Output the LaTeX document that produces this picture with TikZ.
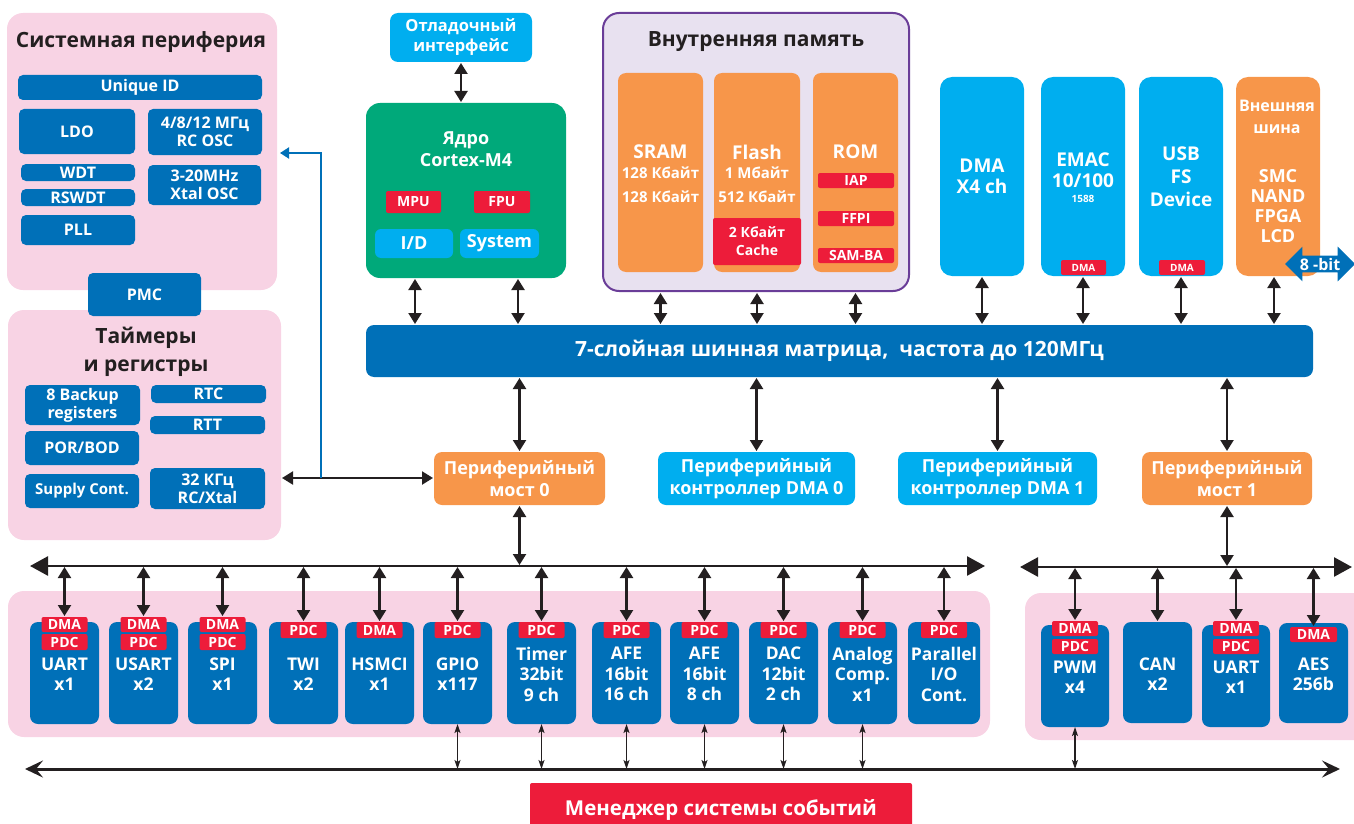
\documentclass[tikz,border=0pt]{standalone}
\usepackage{fontspec}
\setmainfont{Open Sans}
\usetikzlibrary{arrows.meta,shapes.arrows}
\definecolor{pinkbg}{HTML}{F8D3E4}
\definecolor{dblue}{HTML}{0070B8}
\definecolor{cyanb}{HTML}{00AEEF}
\definecolor{orangeb}{HTML}{F7964A}
\definecolor{redb}{HTML}{ED1C3A}
\definecolor{greenb}{HTML}{00A97A}
\definecolor{lav}{HTML}{E8E1F0}
\definecolor{purp}{HTML}{6A3D98}
\definecolor{ink}{HTML}{231F20}
\newcommand{\mkbox}[7]{\node[#2, minimum width={(#5)-(#3)}, minimum height={(#6)-(#4)}] (#1) at ({((#3)+(#5))/2},{((#4)+(#6))/2}) {#7};}
\newcommand{\fs}[2]{\fontsize{#1}{#2}\selectfont\bfseries}
\begin{document}
\begin{tikzpicture}[x=1pt,y=-1pt,
  blk/.style={inner sep=0pt, outer sep=0pt, rounded corners=8pt, align=center, text=white},
  pinkarea/.style={blk, fill=pinkbg, rounded corners=16pt},
  dbox/.style={blk, fill=dblue},
  sbox/.style={blk, fill=dblue, rounded corners=5pt, font=\fs{16}{18}},
  cbox/.style={blk, fill=cyanb},
  obox/.style={blk, fill=orangeb},
  gbox/.style={blk, fill=greenb, rounded corners=14pt},
  rtag/.style={blk, fill=redb, rounded corners=2pt, font=\fs{14}{15}},
  mtag/.style={blk, fill=redb, rounded corners=2pt, font=\fs{14}{15}},
  lbl/.style={inner sep=0pt, align=center, text=white},
  ttl/.style={inner sep=0pt, align=center, text=ink, font=\fs{21}{28}},
  dbl/.style={{Triangle[length=11pt,width=13pt]}-{Triangle[length=11pt,width=13pt]}, line width=2.2pt, draw=ink, shorten <=1pt, shorten >=1pt},
  busl/.style={{Triangle[length=18pt,width=19pt]}-{Triangle[length=18pt,width=19pt]}, line width=2.6pt, draw=ink},
  evl/.style={{Stealth[length=9pt,width=6pt,inset=2pt]}-{Stealth[length=9pt,width=6pt,inset=2pt]}, line width=1.5pt, draw=ink},
  evbus/.style={{Stealth[length=18pt,width=17pt,inset=7pt]}-{Stealth[length=18pt,width=17pt,inset=7pt]}, line width=3pt, draw=ink}
]
\useasboundingbox (0,0) rectangle (1354,824);
\clip (0,0) rectangle (1354,824);

% ---------- System peripherals ----------
\mkbox{sysp}{pinkarea}{7}{13}{277}{290}{}
\node[ttl] (syspT) at (141,42) {Системная периферия};
\mkbox{uid}{sbox}{18}{75}{262}{100}{Unique ID}
\mkbox{ldo}{sbox}{19}{109}{135}{154}{LDO}
\mkbox{rcosc}{sbox}{148}{109}{262}{155}{4/8/12 МГц\\RC OSC}
\mkbox{wdt}{sbox}{21}{164}{135}{181}{WDT}
\mkbox{rswdt}{sbox}{21}{189}{135}{206}{RSWDT}
\mkbox{xosc}{sbox}{148}{165}{261}{205}{3-20MHz\\Xtal OSC}
\mkbox{pll}{sbox}{21}{215}{135}{245}{PLL}

% ---------- Timers ----------
\mkbox{tmr}{pinkarea}{8}{310}{281}{540}{}
\node[ttl] (tmrT) at (146,352) {Таймеры\\и регистры};
\mkbox{bkp}{sbox}{25}{385}{140}{425}{8 Backup\\registers}
\mkbox{rtc}{sbox}{151}{385}{266}{403}{RTC}
\mkbox{rtt}{sbox}{150}{416}{265}{434}{RTT}
\mkbox{por}{sbox}{25}{431}{139}{465}{POR/BOD}
\mkbox{sup}{sbox,font=\fs{15}{17}}{25}{474}{139}{508}{Supply Cont.}
\mkbox{k32}{sbox}{150}{468}{265}{509}{32 КГц\\RC/Xtal}
\mkbox{pmc}{sbox}{88}{273}{201}{316}{PMC}

% ---------- Debug & core ----------
\mkbox{dbg}{cbox,font=\fs{16.5}{20}}{390}{13}{532}{62}{Отладочный\\интерфейс}
\mkbox{core}{gbox}{366}{103}{566}{278}{}
\node[lbl, font=\fs{18}{22}] (coreT) at (466,149) {Ядро\\Cortex-M4};
\mkbox{mpu}{mtag}{386}{191}{441}{213}{MPU}
\mkbox{fpu}{mtag}{474}{191}{530}{213}{FPU}
\mkbox{idb}{cbox,rounded corners=6pt,font=\fs{18}{18}}{375}{229}{453}{258}{I/D}
\mkbox{sysb}{cbox,rounded corners=6pt,font=\fs{18}{18}}{460}{229}{539}{258}{System}
\draw[dbl] (dbg.south) -- (core.north -| dbg.south);

% ---------- Internal memory ----------
\node[draw=purp, line width=2pt, fill=lav, rounded corners=16pt, inner sep=0pt, minimum width=306, minimum height=278] (mem) at (756,152) {};
\node[ttl] (memT) at (756,42) {Внутренняя память};
\mkbox{sram}{obox}{618}{73}{703}{272}{}
\node[lbl, font=\fs{19}{22}] (sramT) at (660.5,152) {SRAM};
\node[lbl, font=\fs{15}{24}] (sramS) at (660.5,185) {128 Кбайт\\128 Кбайт};
\mkbox{flash}{obox}{714}{73}{800}{272}{}
\node[lbl, font=\fs{19}{22}] (flashT) at (757,152) {Flash};
\node[lbl, font=\fs{15}{24}] (flashS) at (757,185) {1 Мбайт\\512 Кбайт};
\mkbox{cache}{rtag,font=\fs{14}{18}}{713}{218}{801}{265}{2 Кбайт\\Cache}
\mkbox{rom}{obox}{813}{73}{898}{272}{}
\node[lbl, font=\fs{19}{22}] (romT) at (855.5,152) {ROM};
\mkbox{iap}{rtag}{818}{173}{894}{188}{IAP}
\mkbox{ffpi}{rtag}{818}{211}{894}{226}{FFPI}
\mkbox{samba}{rtag}{818}{248}{894}{263}{SAM-BA}

% ---------- Masters right ----------
\mkbox{dmax}{cbox,rounded corners=12pt,font=\fs{19}{21}}{940}{77}{1024}{276}{DMA\\X4 ch}
\mkbox{emac}{cbox,rounded corners=12pt}{1041}{77}{1125}{276}{}
\node[lbl, font=\fs{19}{21}] (emacT) at (1083,170.5) {EMAC\\10/100};
\node[lbl, font=\fs{10}{12}] (emacS) at (1083,199) {1588};
\mkbox{emacd}{rtag,font=\fs{10}{11}}{1061}{260}{1106}{275}{DMA}
\mkbox{usb}{cbox,rounded corners=12pt,font=\fs{19}{23}}{1139}{77}{1223}{276}{USB\\FS\\Device}
\mkbox{usbd}{rtag,font=\fs{10}{11}}{1159}{260}{1205}{275}{DMA}
\mkbox{ext}{obox,rounded corners=12pt}{1236}{77}{1320}{276}{}
\node[lbl, font=\fs{16}{22}] (extT) at (1277,117) {Внешняя\\шина};
\node[lbl, font=\fs{18}{20}] (extS) at (1278,206) {SMC\\NAND\\FPGA\\LCD};
\node[double arrow, fill=dblue, text=white, font=\fs{16}{16}, inner sep=2pt, minimum height=70pt, double arrow head extend=9pt] (eightbit) at (1320,264) {8 -bit};

% ---------- Bus matrix ----------
\mkbox{bus}{dbox,font=\fs{21}{24}}{366}{325}{1313}{377}{7-слойная шинная матрица,\ \ частота до 120МГц}
\draw[dbl] (core.south -| 415,0) -- (bus.north -| 415,0);
\draw[dbl] (core.south -| 518,0) -- (bus.north -| 518,0);
\draw[dbl] (mem.south -| sram.south) -- (bus.north -| sram.south);
\draw[dbl] (mem.south -| flash.south) -- (bus.north -| flash.south);
\draw[dbl] (mem.south -| rom.south) -- (bus.north -| rom.south);
\draw[dbl] (dmax.south) -- (bus.north -| dmax.south);
\draw[dbl] (emac.south) -- (bus.north -| emac.south);
\draw[dbl] (usb.south) -- (bus.north -| usb.south);
\draw[dbl] (ext.south -| 1274,0) -- (bus.north -| 1274,0);

% ---------- Bridges ----------
\mkbox{mb0}{obox,font=\fs{18}{22}}{434}{452}{605}{505}{Периферийный\\мост 0}
\mkbox{pd0}{cbox,font=\fs{18}{22}}{658}{452}{855}{505}{Периферийный\\контроллер DMA 0}
\mkbox{pd1}{cbox,font=\fs{18}{22}}{898}{452}{1097}{505}{Периферийный\\контроллер DMA 1}
\mkbox{mb1}{obox,font=\fs{18}{22}}{1142}{452}{1312}{505}{Периферийный\\мост 1}
\draw[dbl] (bus.south -| 519.5,0) -- (mb0.north);
\draw[dbl] (bus.south -| pd0.north) -- (pd0.north);
\draw[dbl] (bus.south -| pd1.north) -- (pd1.north);
\draw[dbl] (bus.south -| mb1.north) -- (mb1.north);

% links to left blocks
\coordinate (bj) at (321,478);
\draw[dbl] (tmr.east |- bj) -- (mb0.west |- bj);
\draw[draw=dblue, line width=2pt, -{Triangle[length=9pt,width=11pt]}, shorten >=3pt] (bj) |- (sysp.east |- 0,153);

% ---------- Peripheral buses ----------
\coordinate (L1) at (30,566);
\coordinate (R1) at (985,566);
\coordinate (L2) at (1020,567);
\coordinate (R2) at (1352,567);
\draw[busl] (L1) -- (R1);
\draw[busl] (L2) -- (R2);
\draw[dbl] (mb0.south -| 519.5,0) -- (mb0.south |- L1);
\draw[dbl] (mb1.south) -- (mb1.south |- L2);

% ---------- Peripherals left ----------
\mkbox{pinkL}{pinkarea}{8}{591}{990}{737}{}
\foreach \nm/\xa/\xb/\tg/\txt in {
  uart/30/99/2/{UART\\x1},
  usart/109/178/2/{USART\\x2},
  spi/188/257/2/{SPI\\x1},
  twi/269/338/1/{TWI\\x2},
  hsmci/345/414/3/{HSMCI\\x1},
  gpio/423/492/1/{GPIO\\x117},
  timer/507/576/1/{Timer\\32bit\\9 ch},
  afea/592/661/1/{AFE\\16bit\\16 ch},
  afeb/670/739/1/{AFE\\16bit\\8 ch},
  dac/749/818/1/{DAC\\12bit\\2 ch},
  acmp/828/897/1/{Analog\\Comp.\\x1},
  pio/908/980/1/{Parallel\\I/O\\Cont.}} {
  \mkbox{\nm}{dbox}{\xa}{622}{\xb}{724}{}
  \node[lbl, font=\fs{17.5}{20.5}] (\nm T) at ({(\xa+\xb)/2},674) {\txt};
  \ifnum\tg=2
    \mkbox{\nm D}{rtag}{(\xa+\xb)/2-23}{617}{(\xa+\xb)/2+23}{632}{DMA}
    \mkbox{\nm P}{rtag}{(\xa+\xb)/2-23}{634}{(\xa+\xb)/2+23}{650}{PDC}
    \draw[dbl] (\nm D.north |- L1) -- (\nm D.north);
  \else\ifnum\tg=3
    \mkbox{\nm D}{rtag}{(\xa+\xb)/2-23}{622}{(\xa+\xb)/2+23}{638}{DMA}
    \draw[dbl] (\nm D.north |- L1) -- (\nm D.north);
  \else
    \mkbox{\nm P}{rtag}{(\xa+\xb)/2-23}{622}{(\xa+\xb)/2+23}{638}{PDC}
    \draw[dbl] (\nm P.north |- L1) -- (\nm P.north);
  \fi\fi
}

% ---------- Peripherals right ----------
\mkbox{pinkR}{pinkarea}{1025}{593}{1380}{740}{}
\mkbox{pwm}{dbox}{1041}{625}{1109}{727}{}
\node[lbl, font=\fs{17.5}{20.5}] (pwmT) at (1075,677) {PWM\\x4};
\mkbox{pwmD}{rtag}{1052}{621}{1098}{636}{DMA}
\mkbox{pwmP}{rtag}{1052}{639}{1098}{654}{PDC}
\mkbox{can}{dbox}{1123}{622}{1192}{723}{}
\node[lbl, font=\fs{17.5}{20.5}] (canT) at (1157.5,674) {CAN\\x2};
\mkbox{uartr}{dbox}{1202}{625}{1270}{727}{}
\node[lbl, font=\fs{17.5}{20.5}] (uartrT) at (1236,677) {UART\\x1};
\mkbox{uartrD}{rtag}{1213}{621}{1259}{636}{DMA}
\mkbox{uartrP}{rtag}{1213}{639}{1259}{654}{PDC}
\mkbox{aes}{dbox}{1279}{623}{1348}{723}{}
\node[lbl, font=\fs{17.5}{20.5}] (aesT) at (1313.5,674) {AES\\256b};
\mkbox{aesD}{rtag}{1290}{627}{1337}{642}{DMA}
\draw[dbl] (pwmD.north |- L2) -- (pwmD.north);
\draw[dbl] (can.north |- L2) -- (can.north);
\draw[dbl] (uartrD.north |- L2) -- (uartrD.north);
\draw[dbl] (aesD.north |- L2) -- (aesD.north);

% ---------- Event system ----------
\coordinate (EL) at (25,769);
\coordinate (ER) at (1340,769);
\draw[evbus] (EL) -- (ER);
\foreach \nm in {gpio,timer,afea,afeb,dac,acmp,pwm}
  \draw[evl] (\nm.south) -- (\nm.south |- EL);
\mkbox{evm}{rtag,font=\fs{20.5}{22}}{530}{783}{912}{836}{Менеджер системы событий}
\end{tikzpicture}
\end{document}
